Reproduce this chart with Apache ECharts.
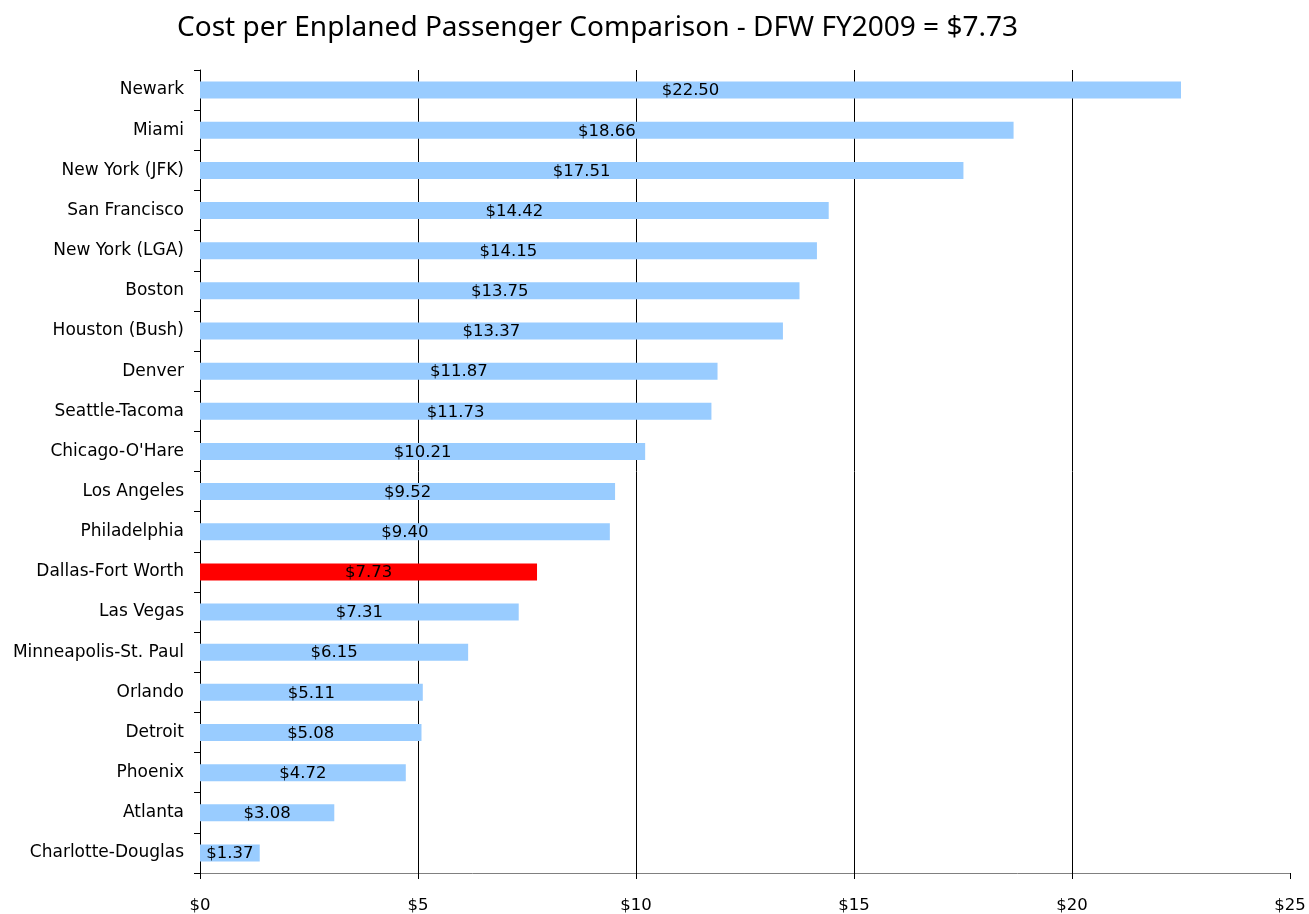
<!DOCTYPE html>
<html>
<head>
<meta charset="utf-8">
<script src="https://cdn.jsdelivr.net/npm/echarts@6/dist/echarts.min.js"></script>
<style>
  html, body { margin: 0; padding: 0; background: #fff; }
  #chart { width: 1309px; height: 914px; }
</style>
</head>
<body>
<div id="chart"></div>
<script>
// airports, top to bottom as in the chart
const airports = [
  'Newark', 'Miami', 'New York (JFK)', 'San Francisco', 'New York (LGA)',
  'Boston', 'Houston (Bush)', 'Denver', 'Seattle-Tacoma', "Chicago-O'Hare",
  'Los Angeles', 'Philadelphia', 'Dallas-Fort Worth', 'Las Vegas',
  'Minneapolis-St. Paul', 'Orlando', 'Detroit', 'Phoenix', 'Atlanta', 'Charlotte-Douglas'
];
const costs = [
  22.50, 18.66, 17.51, 14.42, 14.15,
  13.75, 13.37, 11.87, 11.73, 10.21,
  9.52, 9.40, 7.73, 7.31,
  6.15, 5.11, 5.08, 4.72, 3.08, 1.37
];
const highlight = 'Dallas-Fort Worth';
const xTicks = [0, 5, 10, 15, 20, 25];

const fontFamily = 'DejaVu Sans';

const chart = echarts.init(document.getElementById('chart'));

// category axis goes bottom-up, so reverse
const cats = airports.slice().reverse();
const vals = costs.slice().reverse().map((v, i) => ({
  value: v,
  itemStyle: { color: cats[i] === highlight ? '#ff0000' : '#99ccff' }
}));

const option = {
  animation: false,
  title: {
    text: 'Cost per Enplaned Passenger Comparison - DFW FY2009 = $7.73',
    left: 172,
    top: 9,
    textStyle: {
      fontFamily: 'Noto Sans',
      fontSize: 28,
      fontWeight: 'normal',
      color: '#000'
    }
  },
  grid: {
    left: 200,
    right: 19,
    top: 70,
    bottom: 41
  },
  xAxis: {
    type: 'value',
    min: xTicks[0],
    max: xTicks[xTicks.length - 1],
    interval: 5,
    axisLine: { show: true, lineStyle: { color: '#808080', width: 1 } },
    axisTick: { show: true, length: 6, lineStyle: { color: '#000' } },
    axisLabel: {
      margin: 24,
      fontFamily: fontFamily,
      fontSize: 16.5,
      color: '#000',
      formatter: v => '$' + v
    },
    splitLine: {
      show: true,
      showMinLine: false,
      showMaxLine: false,
      lineStyle: { color: '#000', width: 1 }
    }
  },
  yAxis: {
    type: 'category',
    data: cats,
    axisLine: { show: true, lineStyle: { color: '#000', width: 1 } },
    axisTick: { show: true, length: 6, lineStyle: { color: '#000' } },
    axisLabel: {
      margin: 16,
      padding: [4, 0, 0, 0],
      fontFamily: fontFamily,
      fontSize: 17,
      color: '#000'
    }
  },
  series: [{
    type: 'bar',
    data: vals,
    barWidth: 17,
    label: {
      show: true,
      position: 'inside',
      offset: [0, 1],
      fontFamily: fontFamily,
      fontSize: 16.5,
      color: '#000',
      formatter: p => '$' + p.value.toFixed(2)
    }
  }]
};

chart.setOption(option);
</script>
</body>
</html>
